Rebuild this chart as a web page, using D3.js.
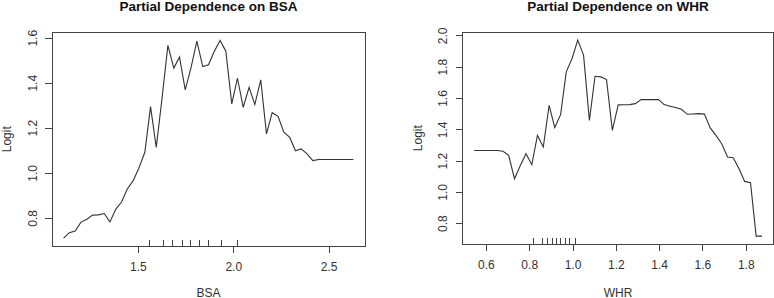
<!DOCTYPE html>
<html>
<head>
  <meta charset="utf-8">
  <script src="https://d3js.org/d3.v7.min.js"></script>
  <style>
    body { margin: 0; background: #fff; }
    svg { display: block; font-family: "Liberation Sans", Arial, sans-serif; }
    .tick text { fill: #333; font-size: 12px; }
    .box, .tick line, .rug { stroke: #444; shape-rendering: crispEdges; }
  </style>
</head>
<body>
<script>
  // partial dependence grid (51 points each)
  var bsaGrid = [1.110, 1.140, 1.171, 1.201, 1.232, 1.262, 1.292, 1.323, 1.353, 1.384,
                 1.414, 1.444, 1.475, 1.505, 1.536, 1.566, 1.596, 1.627, 1.657, 1.688,
                 1.718, 1.748, 1.779, 1.809, 1.840, 1.870, 1.900, 1.931, 1.961, 1.992,
                 2.022, 2.052, 2.083, 2.113, 2.144, 2.174, 2.204, 2.235, 2.265, 2.296,
                 2.326, 2.356, 2.387, 2.417, 2.448, 2.478, 2.508, 2.539, 2.569, 2.600, 2.630];
  var bsaLogit = [0.710, 0.734, 0.741, 0.781, 0.794, 0.812, 0.813, 0.819, 0.782, 0.839,
                  0.870, 0.928, 0.965, 1.021, 1.091, 1.294, 1.113, 1.336, 1.566, 1.465,
                  1.514, 1.368, 1.469, 1.585, 1.472, 1.480, 1.539, 1.588, 1.540, 1.306,
                  1.420, 1.291, 1.380, 1.303, 1.413, 1.173, 1.267, 1.251, 1.180, 1.157,
                  1.098, 1.106, 1.084, 1.054, 1.059, 1.059, 1.059, 1.059, 1.059, 1.059, 1.059];
  var bsaDeciles = [1.556, 1.631, 1.680, 1.731, 1.775, 1.820, 1.866, 1.935, 2.019];
  var bsaXTicks = [1.5, 2.0, 2.5];
  var bsaYTicks = [0.8, 1.0, 1.2, 1.4, 1.6];

  var whrGrid = [0.546, 0.573, 0.599, 0.626, 0.652, 0.679, 0.705, 0.732, 0.759, 0.785,
                 0.812, 0.838, 0.865, 0.892, 0.918, 0.945, 0.971, 0.998, 1.024, 1.051,
                 1.078, 1.104, 1.131, 1.157, 1.184, 1.211, 1.237, 1.264, 1.290, 1.317,
                 1.343, 1.370, 1.397, 1.423, 1.450, 1.476, 1.503, 1.530, 1.556, 1.583,
                 1.609, 1.636, 1.662, 1.689, 1.716, 1.742, 1.769, 1.795, 1.822, 1.848, 1.875];
  var whrLogit = [1.265, 1.265, 1.265, 1.265, 1.265, 1.260, 1.234, 1.084, 1.169, 1.244,
                  1.174, 1.361, 1.287, 1.553, 1.411, 1.494, 1.767, 1.853, 1.970, 1.874,
                  1.457, 1.739, 1.735, 1.718, 1.393, 1.556, 1.557, 1.558, 1.564, 1.590,
                  1.590, 1.590, 1.590, 1.558, 1.548, 1.539, 1.528, 1.496, 1.498, 1.500,
                  1.497, 1.409, 1.361, 1.308, 1.223, 1.218, 1.148, 1.067, 1.058, 0.717, 0.717];
  var whrDeciles = [0.818, 0.857, 0.881, 0.903, 0.923, 0.944, 0.964, 0.986, 1.012];
  var whrXTicks = [0.6, 0.8, 1.0, 1.2, 1.4, 1.6, 1.8];
  var whrYTicks = [0.8, 1.0, 1.2, 1.4, 1.6, 1.8, 2.0];

  var svg = d3.select("body").append("svg")
      .attr("width", 774)
      .attr("height", 298);

  // R style axis range: data extent stretched by 4% each side
  function rDomain(v) {
    var e = d3.extent(v), pad = (e[1] - e[0]) * 0.04;
    return [e[0] - pad, e[1] + pad];
  }

  function drawPanel(p) {
    var x = d3.scaleLinear().domain(rDomain(p.xs)).range([p.left, p.right]);
    var y = d3.scaleLinear().domain(rDomain(p.ys)).range([p.bottom, p.top]);
    var g = svg.append("g");

    g.append("text")
      .attr("x", (p.left + p.right) / 2)
      .attr("y", 11)
      .attr("text-anchor", "middle")
      .style("font-size", "13.5px")
      .style("font-weight", "bold")
      .style("fill", "#111")
      .text(p.title);

    var xAxis = g.append("g")
      .attr("transform", "translate(0," + p.bottom + ")")
      .call(d3.axisBottom(x).tickValues(p.xTicks).tickSize(7).tickFormat(d3.format(".1f")));
    xAxis.select(".domain").remove();
    xAxis.selectAll("text").attr("dy", null).attr("y", 24.7);

    var yAxis = g.append("g")
      .attr("transform", "translate(" + p.left + ",0)")
      .call(d3.axisLeft(y).tickValues(p.yTicks).tickSize(7).tickFormat(d3.format(".1f")));
    yAxis.select(".domain").remove();
    yAxis.selectAll("text")
      .attr("x", null).attr("dy", null)
      .attr("text-anchor", "middle")
      .attr("transform", "translate(-15.5,0) rotate(-90)");

    g.append("rect")
      .attr("class", "box")
      .attr("x", p.left).attr("y", p.top)
      .attr("width", p.right - p.left).attr("height", p.bottom - p.top)
      .attr("fill", "none");

    // rug of deciles
    g.selectAll(".rug").data(p.rug).enter().append("line")
      .attr("class", "rug")
      .attr("x1", function(d) { return Math.round(x(d)) + 0.5; })
      .attr("x2", function(d) { return Math.round(x(d)) + 0.5; })
      .attr("y1", p.bottom)
      .attr("y2", p.bottom - 6.5);

    var line = d3.line()
      .x(function(d, i) { return x(p.xs[i]); })
      .y(function(d) { return y(d); });
    g.append("path")
      .datum(p.ys)
      .attr("d", line)
      .attr("fill", "none")
      .attr("stroke", "#333")
      .attr("stroke-width", 1.1);

    g.append("text")
      .attr("x", (p.left + p.right) / 2)
      .attr("y", 296.5)
      .attr("text-anchor", "middle")
      .style("font-size", "12px")
      .style("fill", "#333")
      .text(p.xLabel);

    g.append("text")
      .attr("transform", "translate(" + (p.left - 41) + "," + ((p.top + p.bottom) / 2) + ") rotate(-90)")
      .attr("text-anchor", "middle")
      .style("font-size", "12px")
      .style("fill", "#333")
      .text("Logit");
  }

  drawPanel({ title: "Partial Dependence on BSA", xLabel: "BSA",
    xs: bsaGrid, ys: bsaLogit, rug: bsaDeciles, xTicks: bsaXTicks, yTicks: bsaYTicks,
    left: 52, right: 365, top: 32.5, bottom: 246 });

  drawPanel({ title: "Partial Dependence on WHR", xLabel: "WHR",
    xs: whrGrid, ys: whrLogit, rug: whrDeciles, xTicks: whrXTicks, yTicks: whrYTicks,
    left: 462.7, right: 773.5, top: 32.3, bottom: 244 });
</script>
</body>
</html>
